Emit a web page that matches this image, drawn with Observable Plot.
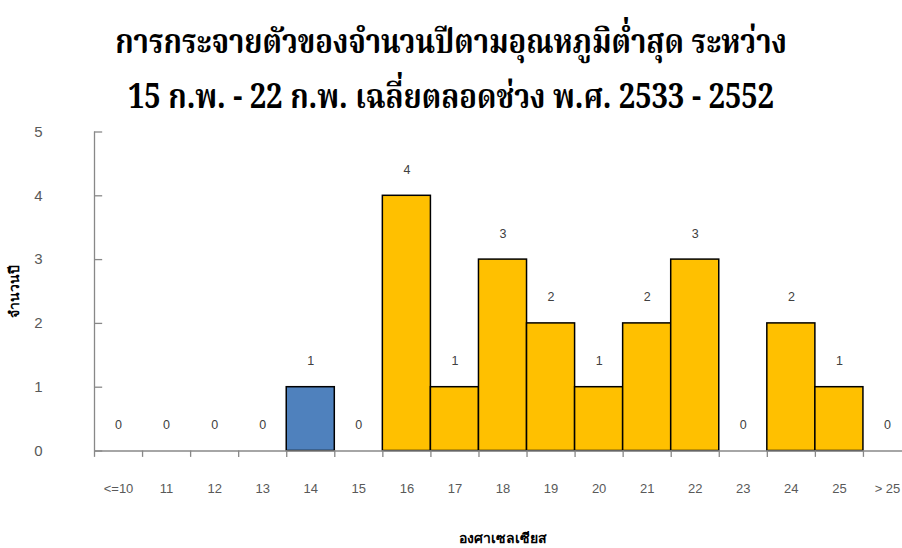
<!DOCTYPE html>
<html>
<head>
<meta charset="utf-8">
<script src="https://cdn.jsdelivr.net/npm/d3@7"></script>
<script src="https://cdn.jsdelivr.net/npm/@observablehq/plot@0.6"></script>
<style>
  html, body { margin: 0; padding: 0; background: #fff; }
  #wrap { position: relative; width: 902px; height: 548px; overflow: hidden; }
  .title {
    position: absolute;
    left: 0; top: 0; width: 902px;
    z-index: 1;
    font-family: "Noto Serif Thai", "Norasi", "Liberation Serif", "DejaVu Serif", serif;
    font-weight: bold;
    font-size: 34px;
    line-height: 55px;
    padding-top: 17px;
    text-align: center;
    color: #000;
    white-space: nowrap;
  }
  .title div { transform: scaleX(0.86); transform-origin: 451px 50%; }
  #chart { position: absolute; left: 0; top: 115px; }
</style>
</head>
<body>
<div id="wrap">
  <div class="title" id="title"></div>
  <div id="chart"></div>
</div>
<script>
// Title lines
const titleLines = [
  "การกระจายตัวของจำนวนปีตามอุณหภูมิต่ำสุด ระหว่าง",
  "15 ก.พ. - 22 ก.พ. เฉลี่ยตลอดช่วง พ.ศ. 2533 - 2552"
];
const yTitle = "จำนวนปี";
const xTitle = "องศาเซลเซียส";

// Temperature classes (°C) and the number of years in each
const categories = ["<=10", "11", "12", "13", "14", "15", "16", "17", "18", "19", "20", "21", "22", "23", "24", "25", "> 25"];
const counts = [0, 0, 0, 0, 1, 0, 4, 1, 3, 2, 1, 2, 3, 0, 2, 1, 0];
const highlighted = ["14"];
const yTicks = [0, 1, 2, 3, 4, 5];

const rows = categories.map((c, i) => ({cat: c, i, count: counts[i]}));

document.getElementById("title").innerHTML = titleLines.map(t => `<div>${t}</div>`).join("");

const axisColor = "#888888";
const W = 902, H = 433;
const mTop = 16.5, mBottom = 97.5;

const chart = Plot.plot({
  width: W,
  height: H,
  marginTop: mTop,
  marginBottom: mBottom,
  marginLeft: 94,
  marginRight: 0,
  style: {fontFamily: "'Liberation Sans', Arial, sans-serif", background: "transparent"},
  x: {domain: [0, categories.length], range: [94, 911], axis: null},
  y: {domain: [0, 5], range: [H - mBottom, mTop], axis: null},
  marks: [
    // bars
    Plot.rectY(rows.filter(d => d.count > 0), {
      x1: d => d.i,
      x2: d => d.i + 1,
      y: "count",
      fill: d => highlighted.includes(d.cat) ? "#4F81BD" : "#FFC000",
      stroke: "#000",
      strokeWidth: 1.5
    }),
    // axis lines
    Plot.ruleY([0], {stroke: axisColor, strokeWidth: 1.3}),
    Plot.ruleX([0], {y1: 0, y2: 5, stroke: axisColor, strokeWidth: 1.3}),
    // x ticks at class boundaries
    Plot.ruleX(d3.range(categories.length + 1), {y1: 0, y2: -0.1, stroke: axisColor, strokeWidth: 1.3}),
    // y ticks pointing inward
    Plot.ruleY(yTicks, {x1: 0, x2: 0.17, stroke: axisColor, strokeWidth: 1.3}),
    // y tick labels
    Plot.text(yTicks, {
      x: 0, y: d => d, text: d => String(d), dx: -52, textAnchor: "end",
      fontSize: 15, fill: "#595959"
    }),
    // x class labels
    Plot.text(rows, {
      x: d => d.i + 0.5, y: 0, text: "cat", dy: 38,
      fontSize: 13, fill: "#595959"
    }),
    // count labels above the bars
    Plot.text(rows, {
      x: d => d.i + 0.5, y: "count", text: d => String(d.count), dy: -26,
      fontSize: 12.5, fill: "#404040"
    }),
    // axis titles
    Plot.text([xTitle], {
      x: categories.length / 2, y: 0, text: d => d, dy: 88,
      fontSize: 14, fontWeight: "bold", fill: "#000"
    }),
    Plot.text([yTitle], {
      x: 0, y: 2.5, text: d => d, dx: -80, rotate: -90,
      fontSize: 14, fontWeight: "bold", fill: "#000"
    })
  ]
});

document.getElementById("chart").appendChild(chart);
</script>
</body>
</html>
